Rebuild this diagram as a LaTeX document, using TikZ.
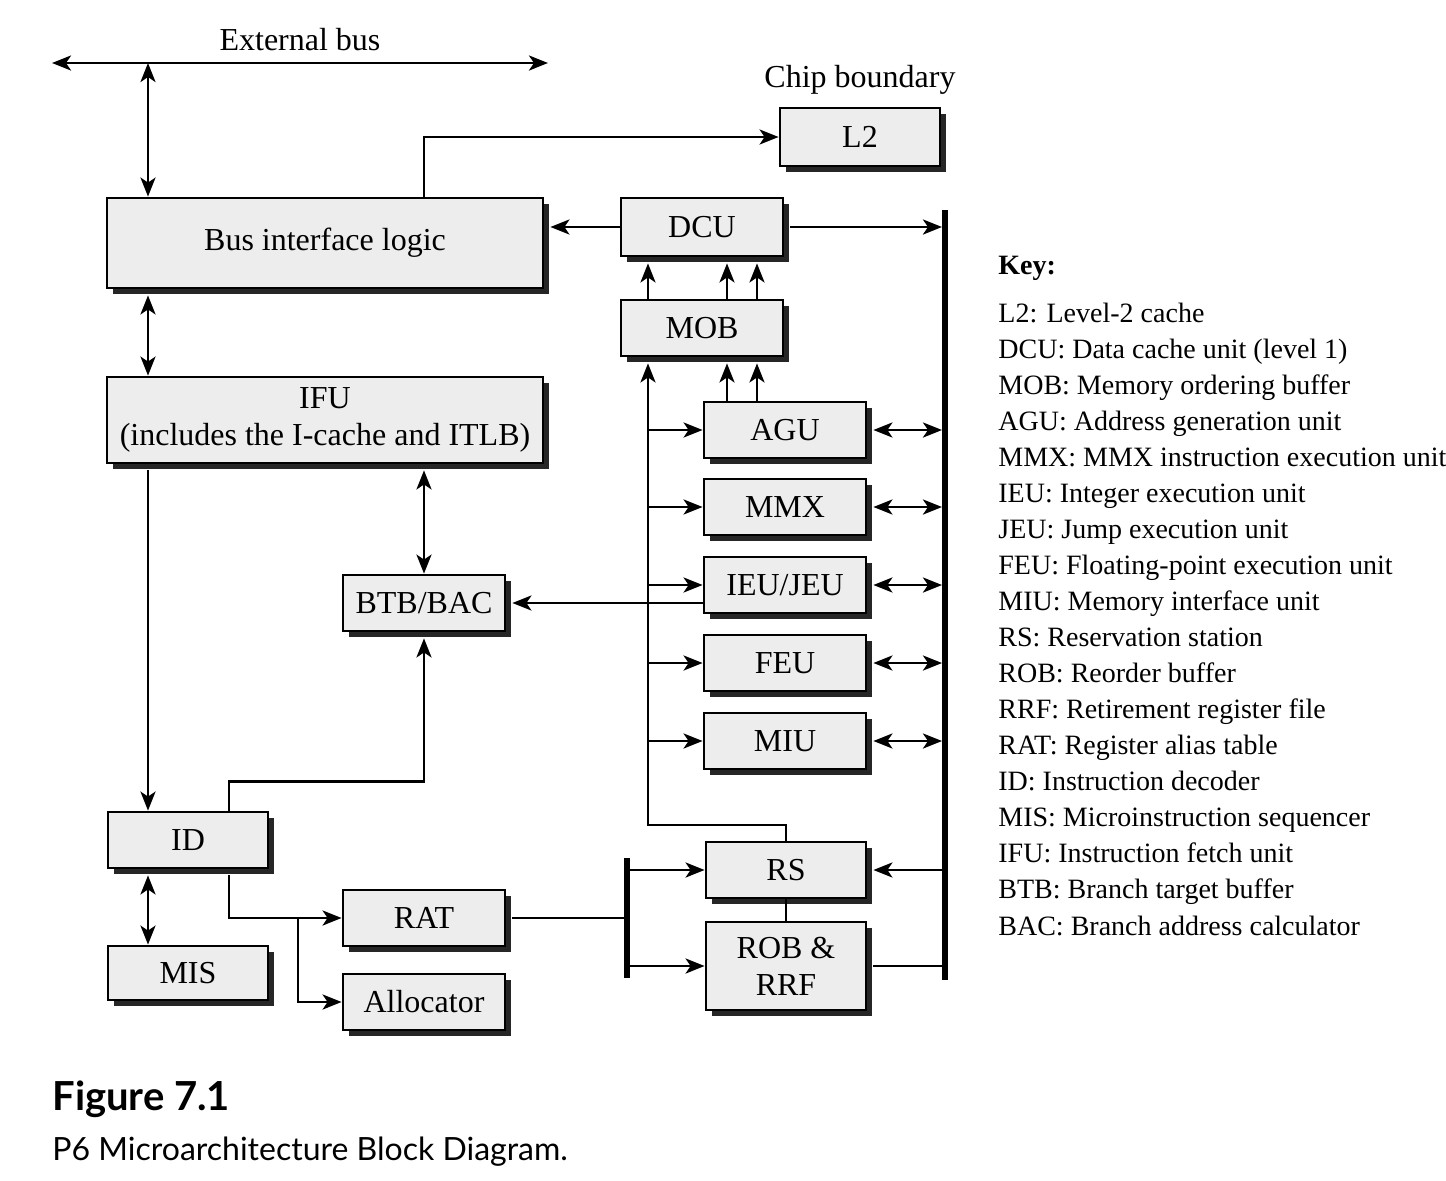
\documentclass[tikz,border=0pt]{standalone}
\usepackage{fontspec}
\setmainfont{Liberation Serif}
\newfontfamily\capfont{Lato}
\usetikzlibrary{arrows.meta,shadows}

\tikzset{P6box/.style={draw,line width=1.4pt,fill=black!7,inner sep=2pt,
           drop shadow={shadow xshift=3pt,shadow yshift=-3pt,fill=black!85,opacity=1}},
         P6ln/.style={line width=1.4pt},
         P6arr/.style={line width=1.4pt,-{Stealth[length=9.5pt,width=7.5pt,inset=2.5pt]}},
         P6dbl/.style={line width=1.4pt,{Stealth[length=9.5pt,width=7.5pt,inset=2.5pt]}-{Stealth[length=9.5pt,width=7.5pt,inset=2.5pt]}},
         P6bus/.style={line width=3pt},
         P6key/.style={anchor=base west,inner sep=0pt,font=\fontsize{14}{16}\selectfont}}

\begin{document}
\begin{tikzpicture}[x=0.5pt,y=-0.5pt, every node/.style={font=\fontsize{16}{18.5}\selectfont}]
  \useasboundingbox (0,0) rectangle (1446,1180);
  % boxes
  \node[P6box,minimum width=218pt,minimum height=45pt] (bil) at (325,243) {Bus interface logic};
  \node[P6box,minimum width=218pt,minimum height=43pt,align=center] (ifu) at (325,420) {IFU\\(includes the I-cache and ITLB)};
  \node[P6box,minimum width=80pt,minimum height=29pt] (ltwo) at (860,137) {L2};
  \node[P6box,minimum width=81pt,minimum height=29pt] (dcu) at (702,227) {DCU};
  \node[P6box,minimum width=81pt,minimum height=28pt] (mob) at (702,328) {MOB};
  \foreach \n/\t/\y in {agu/AGU/430, mmx/MMX/507, ieu/{IEU/JEU}/585, feu/FEU/663, miu/MIU/741}
    \node[P6box,minimum width=81pt,minimum height=28pt] (\n) at (785,\y) {\t};
  \node[P6box,minimum width=80pt,minimum height=28pt] (rs) at (786,870) {RS};
  \node[P6box,minimum width=80pt,minimum height=44pt,align=center] (rob) at (786,966) {ROB \&\\RRF};
  \node[P6box,minimum width=81pt,minimum height=28pt] (btb) at (424,603) {BTB/BAC};
  \node[P6box,minimum width=80pt,minimum height=28pt] (id) at (188,840) {ID};
  \node[P6box,minimum width=80pt,minimum height=27pt] (mis) at (188,973) {MIS};
  \node[P6box,minimum width=81pt,minimum height=28pt] (rat) at (424,918) {RAT};
  \node[P6box,minimum width=81pt,minimum height=28pt] (alloc) at (424,1002) {Allocator};
  % labels
  \node (extlab) at (300,40) {External bus};
  \node (chip) at (860,80) {Chip boundary};
  % bus ends and columns
  \coordinate (exl) at (52,63); \coordinate (exr) at (548,63);
  \coordinate (bt) at (945,210); \coordinate (bb) at (945,980);
  \coordinate (lt) at (627,858); \coordinate (lb) at (627,978);
  \coordinate (rsup) at (648,825);
  \coordinate (cA) at (148,0); \coordinate (cB) at (229,0); \coordinate (cC) at (298,0);
  \coordinate (cD) at (424,0); \coordinate (cE) at (648,0);
  \coordinate (cG) at (727,0); \coordinate (cH) at (757,0);
  % left column
  \draw[P6dbl] (exl) -- (exr);
  \draw[P6dbl] (cA |- exl) -- (cA |- bil.north);
  \draw[P6dbl] ([yshift=-3pt]cA |- bil.south) -- (cA |- ifu.north);
  \draw[P6arr] ([yshift=-3pt]cA |- ifu.south) -- (cA |- id.north);
  \draw[P6dbl] ([yshift=-3pt]cA |- id.south) -- (cA |- mis.north);
  \draw[P6arr] (cB |- id.north) -- ++(0,-29) -| ([yshift=-3pt]btb.south);
  \draw[P6arr] ([yshift=-3pt]cB |- id.south) |- (rat.west);
  \draw[P6arr] (cC |- rat.west) |- (alloc.west);
  \draw[P6dbl] ([yshift=-3pt]cD |- ifu.south) -- (btb.north);
  \draw[P6arr] (ieu.west |- btb.east) -- ([xshift=3pt]btb.east);
  \draw[P6arr] (cD |- bil.north) |- (ltwo.west);
  % memory side
  \draw[P6arr] (dcu.west) -- ([xshift=3pt]dcu.west -| bil.east);
  \draw[P6arr,shorten >=1.5pt] ([xshift=3pt]dcu.east) -- (dcu.east -| bt);
  \foreach \c in {cE,cG,cH} \draw[P6arr] (\c |- mob.north) -- ([yshift=-3pt]\c |- dcu.south);
  \foreach \c in {cG,cH} \draw[P6arr] (\c |- agu.north) -- ([yshift=-3pt]\c |- mob.south);
  % execution units
  \draw[P6arr] (rs.north) |- (rsup) -- ([yshift=-3pt]cE |- mob.south);
  \foreach \n in {agu,mmx,ieu,feu,miu} {
    \draw[P6arr] (cE |- \n.west) -- (\n.west);
    \draw[P6dbl,shorten >=1.5pt] ([xshift=3pt]\n.east) -- (\n.east -| bt);
  }
  \draw[P6arr,shorten <=1.5pt] (rs.east -| bt) -- ([xshift=3pt]rs.east);
  \draw[P6ln] (rs.south) -- (rob.north);
  \draw[P6ln] ([xshift=3pt]rob.east) -- (rob.east -| bt);
  \draw[P6bus] (bt) -- (bb);
  \draw[P6bus] (lt) -- (lb);
  \draw[P6ln] ([xshift=3pt]rat.east) -- (rat.east -| lt);
  \draw[P6arr] (lt |- rs.west) -- (rs.west);
  \draw[P6arr] (lt |- rob.west) -- (rob.west);
  % key
  \node[P6key,font=\bfseries\fontsize{14}{16}\selectfont] (keyhd) at (998,274) {Key:};
  \foreach \t [count=\i from 0] in {L2: Level-2 cache, DCU: Data cache unit (level 1),
      MOB: Memory ordering buffer, AGU: Address generation unit,
      MMX: MMX instruction execution unit, IEU: Integer execution unit,
      JEU: Jump execution unit, FEU: Floating-point execution unit,
      MIU: Memory interface unit, RS: Reservation station, ROB: Reorder buffer,
      RRF: Retirement register file, RAT: Register alias table,
      ID: Instruction decoder, MIS: Microinstruction sequencer,
      IFU: Instruction fetch unit, BTB: Branch target buffer,
      BAC: Branch address calculator}
    \node[P6key] (key\i) at (998,322+36.06*\i) {\t};
  % caption
  \node[anchor=base west,inner sep=0pt,font=\capfont\bfseries\fontsize{20}{24}\selectfont] (figno) at (52,1110) {Figure 7.1};
  \node[anchor=base west,inner sep=0pt,font=\capfont\fontsize{16}{20}\selectfont] (figcap) at (52,1160) {P6 Microarchitecture Block Diagram.};
\end{tikzpicture}
\end{document}
